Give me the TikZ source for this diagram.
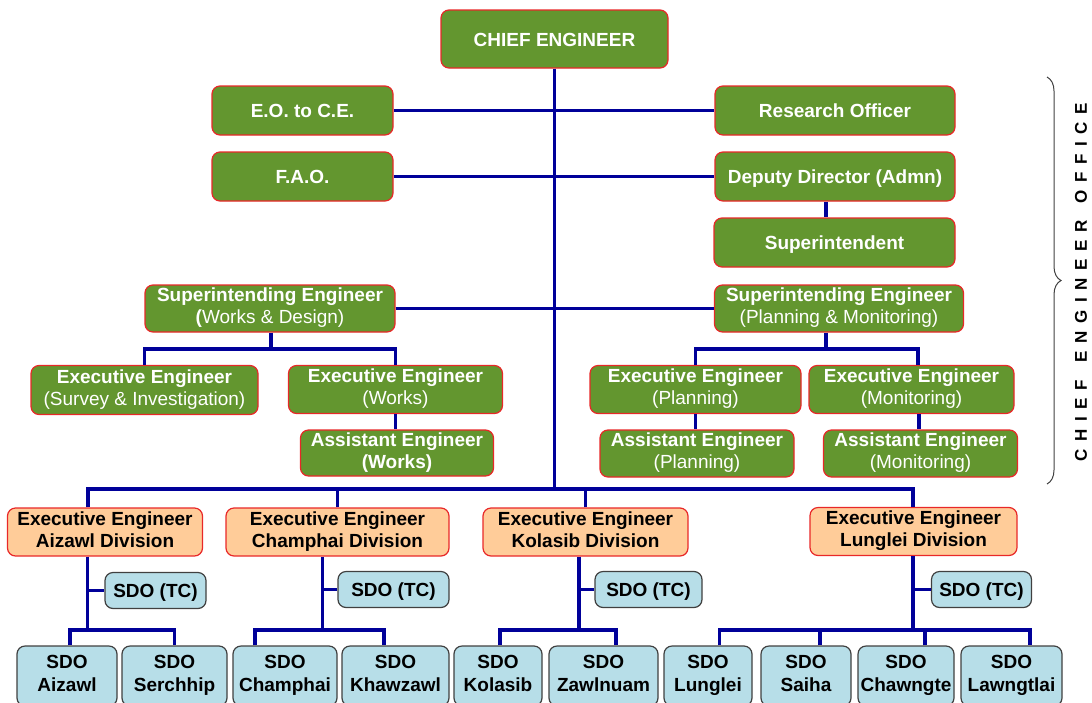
\documentclass[tikz,border=0pt]{standalone}
\usepackage{fontspec}
\setmainfont{Liberation Sans}
\newfontfamily\spacedsans[LetterSpace=45]{Liberation Sans Bold}
\usetikzlibrary{decorations.pathreplacing}
\definecolor{officegreen}{RGB}{99,150,47}
\definecolor{edgered}{RGB}{232,40,40}
\definecolor{divisionorange}{RGB}{255,204,153}
\definecolor{sdoblue}{RGB}{183,222,232}
\definecolor{edgegray}{RGB}{64,64,64}
\definecolor{linkblue}{RGB}{0,0,153}
\newcommand{\boxstrut}{\rule[-5.4pt]{0pt}{25.6pt}}
\tikzset{
  dims/.style 2 args={minimum width=#1pt,minimum height=#2pt},
  box/.style={rounded corners=8pt,line width=1.2pt,inner sep=0pt,align=center,
    font=\fontsize{19}{22.3}\selectfont\bfseries,
    execute at begin node=\boxstrut,execute at end node=\boxstrut},
  office/.style={box,draw=edgered,fill=officegreen,text=white},
  division/.style={box,draw=edgered,fill=divisionorange,text=black},
  subdivision/.style={box,draw=edgegray,fill=sdoblue,text=black},
  link/.style={draw=linkblue,line width=3.7pt},
  bracket/.style={draw=black!75,line width=1pt,decorate,decoration={brace,amplitude=14pt}}
}
\begin{document}
\begin{tikzpicture}[x=1pt,y=-1pt]
\useasboundingbox (0,0) rectangle (1092,702);
\node[office,dims={227}{58}] (ce) at (554.5,39) {CHIEF ENGINEER};
\node[office,dims={181}{49}] (eo) at (302.5,110.5) {E.O. to C.E.};
\node[office,dims={240}{49}] (ro) at (835,110.5) {Research Officer};
\node[office,dims={181}{49}] (fao) at (302.5,176.5) {F.A.O.};
\node[office,dims={240}{49}] (dd) at (835,176.5) {Deputy Director (Admn)};
\node[office,dims={241}{49}] (supt) at (834.5,242.5) {Superintendent};
\node[office,dims={250}{47}] (sewd) at (270,308.5) {Superintending Engineer\\(\mdseries Works \& Design)};
\node[office,dims={249}{47}] (sepm) at (839,308.5) {Superintending Engineer\\\mdseries(Planning \& Monitoring)};
\node[office,dims={227}{49}] (eesi) at (144.5,390) {Executive Engineer\\\mdseries(Survey \& Investigation)};
\node[office,dims={214}{48}] (eew) at (395.5,389.5) {Executive Engineer\\\mdseries(Works)};
\node[office,dims={193}{46}] (aew) at (397,453) {Assistant Engineer\\(Works)};
\node[office,dims={211}{48}] (eep) at (695.5,389.5) {Executive Engineer\\\mdseries(Planning)};
\node[office,dims={205}{48}] (eem) at (911.5,389.5) {Executive Engineer\\\mdseries(Monitoring)};
\node[office,dims={194}{47}] (aep) at (697,453.5) {Assistant Engineer\\\mdseries(Planning)};
\node[office,dims={194}{47}] (aem) at (920.5,453.5) {Assistant Engineer\\\mdseries(Monitoring)};
\node[division,dims={195}{48}] (eeaiz) at (105,532) {Executive Engineer\\Aizawl Division};
\node[division,dims={223}{48}] (eecha) at (337.5,532) {Executive Engineer\\Champhai Division};
\node[division,dims={205}{48}] (eekol) at (585.5,532) {Executive Engineer\\Kolasib Division};
\node[division,dims={207}{48}] (eelun) at (913.5,531.5) {Executive Engineer\\Lunglei Division};
\node[subdivision,dims={101}{36}] (tcaiz) at (155.5,590.5) {SDO (TC)};
\node[subdivision,dims={111}{36}] (tccha) at (393.5,589.5) {SDO (TC)};
\node[subdivision,dims={107}{36}] (tckol) at (648.5,589.5) {SDO (TC)};
\node[subdivision,dims={100}{36}] (tclun) at (981.5,589.5) {SDO (TC)};
\node[subdivision,dims={100}{60}] (saiz) at (67,676) {SDO\\Aizawl};
\node[subdivision,dims={105}{60}] (sser) at (174.5,676) {SDO\\Serchhip};
\node[subdivision,dims={104}{60}] (scha) at (285,676) {SDO\\Champhai};
\node[subdivision,dims={107}{60}] (skhaw) at (395.5,676) {SDO\\Khawzawl};
\node[subdivision,dims={88}{60}] (skol) at (498,676) {SDO\\Kolasib};
\node[subdivision,dims={109}{60}] (szaw) at (603.5,676) {SDO\\Zawlnuam};
\node[subdivision,dims={88}{60}] (slun) at (708,676) {SDO\\Lunglei};
\node[subdivision,dims={90}{60}] (ssai) at (806,676) {SDO\\Saiha};
\node[subdivision,dims={96}{60}] (schaw) at (906,676) {SDO\\Chawngte};
\node[subdivision,dims={101}{60}] (slaw) at (1011.5,676) {SDO\\Lawngtlai};
\coordinate (busl) at (88,489);
\coordinate (busr) at (913,489);
\coordinate (wdbus) at (271,349);
\coordinate (pmbus) at (826,349);
\coordinate (aizb) at (87.5,630);
\coordinate (chab) at (322.5,630);
\coordinate (kolb) at (578.7,630);
\coordinate (lunb) at (913,630);
\draw[link] (ce.south) -- (ce.south |- busl);
\draw[link] (eo.east) -- (ro.west);
\draw[link] (fao.east) -- (dd.west);
\draw[link] (826,0 |- dd.south) -- (826,0 |- supt.north);
\draw[link] (sewd.east) -- (sepm.west);
\draw[link] (wdbus |- sewd.south) -- (wdbus);
\draw[link] (eesi.north) |- (wdbus) -| (eew.north);
\draw[link] (eew.south) -- (eew.south |- aew.north);
\draw[link] (pmbus |- sepm.south) -- (pmbus);
\draw[link] (eep.north) |- (pmbus) -| (918,0 |- eem.north);
\draw[link] (eep.south) -- (eep.south |- aep.north);
\draw[link] (919,0 |- eem.south) -- (919,0 |- aem.north);
\draw[link] (busl |- eeaiz.north) |- (busr) -- (busr |- eelun.north);
\draw[link] (eecha.north) -- (eecha.north |- busl);
\draw[link] (eekol.north) -- (eekol.north |- busl);
\draw[link] (aizb |- eeaiz.south) -- (aizb);
\draw[link] (aizb |- tcaiz.west) -- (tcaiz.west);
\draw[link] (70,0 |- saiz.north) |- (aizb) -| (sser.north);
\draw[link] (chab |- eecha.south) -- (chab);
\draw[link] (chab |- tccha.west) -- (tccha.west);
\draw[link] (255,0 |- scha.north) |- (chab) -| (384,0 |- skhaw.north);
\draw[link] (kolb |- eekol.south) -- (kolb);
\draw[link] (kolb |- tckol.west) -- (tckol.west);
\draw[link] (500,0 |- skol.north) |- (kolb) -| (616,0 |- szaw.north);
\draw[link] (lunb |- eelun.south) -- (lunb);
\draw[link] (lunb |- tclun.west) -- (tclun.west);
\draw[link] (719.5,0 |- slun.north) |- (lunb) -| (1030,0 |- slaw.north);
\draw[link] (820,0 |- ssai.north) -- (820,0 |- lunb);
\draw[link] (925,0 |- schaw.north) -- (925,0 |- lunb);
\draw[bracket] (1047,77) -- (1047,484);
\node[rotate=90,font=\spacedsans\fontsize{17}{17}\selectfont] (ceo) at (1081,282)
  {CHIEF\hspace{17pt}ENGINEER\hspace{17pt}OFFICE};
\end{tikzpicture}
\end{document}
